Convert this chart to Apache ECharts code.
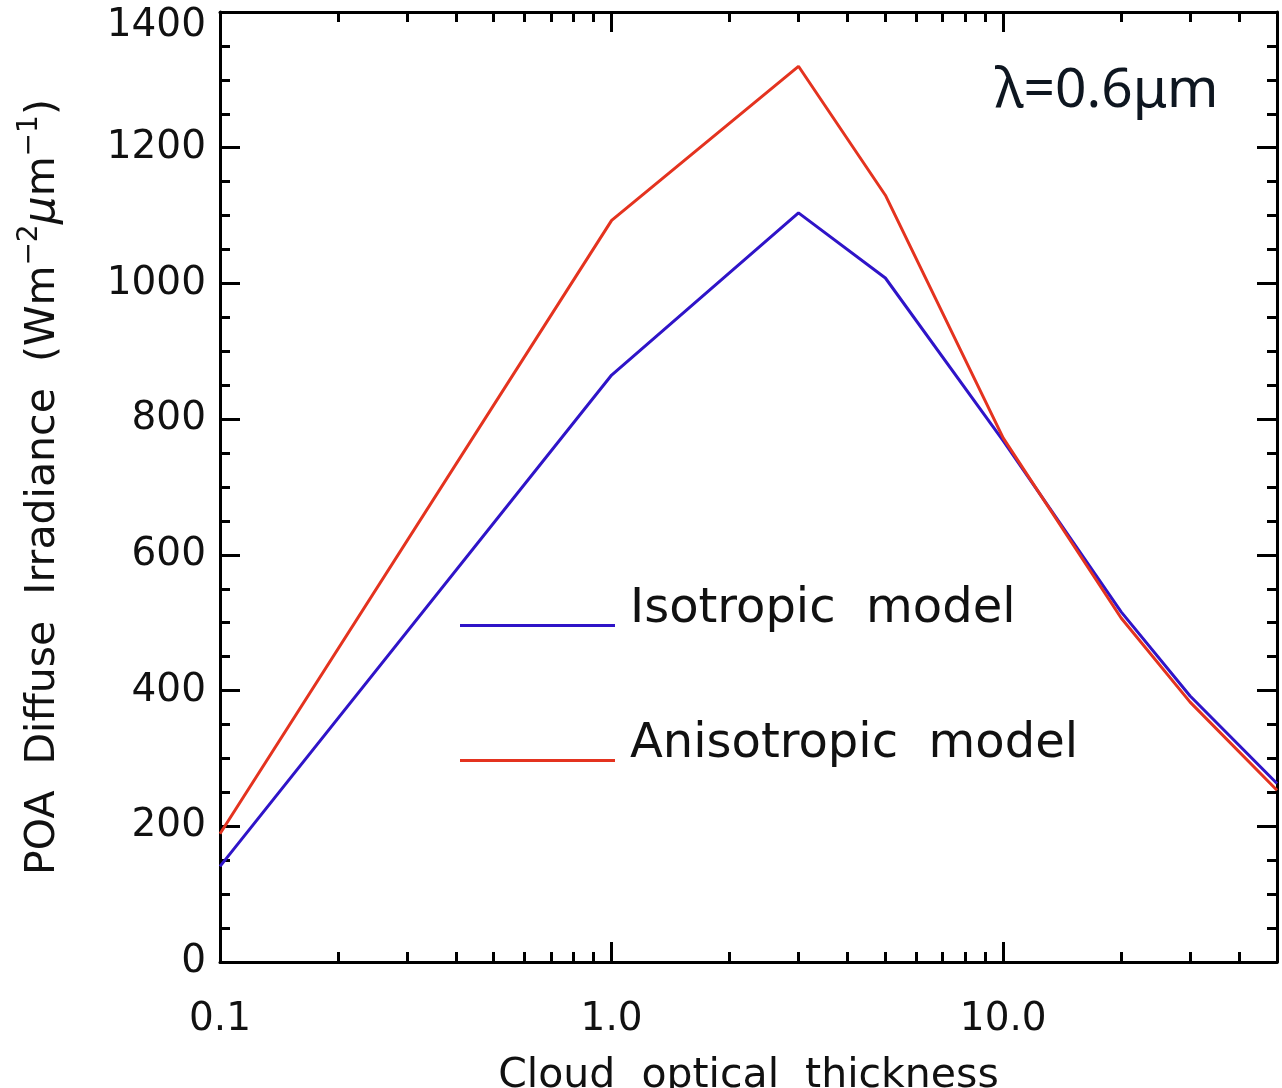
<!DOCTYPE html>
<html>
<head>
<meta charset="utf-8">
<script src="https://cdn.jsdelivr.net/npm/echarts@6/dist/echarts.min.js"></script>
<style>
    html, body { margin: 0; padding: 0; background: #fff; }
    #chart { width: 1282px; height: 1088px; }
</style>
</head>
<body>
<div id="chart"></div>
<script>
// cloud optical thickness (x, log scale)
var thickness = [0.1, 1, 3, 5, 10, 20, 30, 50];
// POA diffuse irradiance
var isotropic = [141, 865, 1104, 1008, 768, 516, 392, 263];
var anisotropic = [189, 1093, 1320, 1130, 772, 507, 383, 253];

var xMajorTicks = [0.1, 1, 10];
var xMinorTicks = [0.2, 0.3, 0.4, 0.5, 0.6, 0.7, 0.8, 0.9, 2, 3, 4, 5, 6, 7, 8, 9, 20, 30, 40];

var FONT = "DejaVu Sans";

function pairs(xs, ys) {
    return xs.map(function (x, i) { return [x, ys[i]]; });
}

// 对数x轴, 主刻度 / 次刻度 分开画
function xAxisDef(position, major) {
    return {
        type: "log",
        logBase: 10,
        min: 0.1,
        max: 50,
        position: position,
        axisLine: { show: major, lineStyle: { color: "#000", width: 3 } },
        axisTick: {
            show: true,
            inside: true,
            length: major ? 20 : 10,
            customValues: major ? xMajorTicks : xMinorTicks,
            lineStyle: { color: "#000", width: 3 }
        },
        axisLabel: {
            show: major && position === "bottom",
            customValues: xMajorTicks,
            margin: 38,
            fontFamily: FONT,
            fontSize: 39,
            color: "#111",
            formatter: function (v) { return Number(v).toFixed(1); }
        },
        splitLine: { show: false },
        minorTick: { show: false }
    };
}

function yAxisDef(position, labels) {
    return {
        type: "value",
        min: 0,
        max: 1400,
        interval: 200,
        position: position,
        axisLine: { show: true, lineStyle: { color: "#000", width: 3 } },
        axisTick: { show: true, inside: true, length: 20, lineStyle: { color: "#000", width: 3 } },
        minorTick: { show: true, splitNumber: 4, length: 10, lineStyle: { color: "#000", width: 3 } },
        axisLabel: {
            show: labels,
            margin: 14,
            fontFamily: FONT,
            fontSize: 39,
            color: "#111",
            // 顶部标签往下挪一点, 不被裁掉
            formatter: function (v) { return v === 1400 ? "{top|" + v + "}" : String(v); },
            rich: {
                top: { fontFamily: FONT, fontSize: 39, color: "#111", padding: [28, 0, 0, 0] }
            }
        },
        splitLine: { show: false }
    };
}

var xAxes = [
    xAxisDef("bottom", true),
    xAxisDef("bottom", false),
    xAxisDef("top", true),
    xAxisDef("top", false)
];
xAxes[0].name = "Cloud  optical  thickness";
xAxes[0].nameLocation = "middle";
xAxes[0].nameGap = 94;
xAxes[0].nameTextStyle = { fontFamily: FONT, fontSize: 41, color: "#111" };

var yLeft = yAxisDef("left", true);
yLeft.name = "{n|POA  Diffuse  Irradiance  (Wm}{s|\u22122}{mu|\u03bc}{n|m}{s|\u22121}{n|)}";
yLeft.nameLocation = "middle";
yLeft.nameGap = 150;
yLeft.nameTextStyle = {
    fontFamily: FONT,
    color: "#111",
    rich: {
        n: { fontFamily: FONT, fontSize: 41, color: "#111" },
        s: { fontFamily: FONT, fontSize: 28, color: "#111", padding: [0, 0, 26, 0] },
        mu: { fontFamily: FONT, fontSize: 44, fontStyle: "italic", color: "#111" }
    }
};

var option = {
    animation: false,
    backgroundColor: "#fff",
    grid: { left: 220, right: 5, top: 12, bottom: 126, outerBoundsMode: "none", containLabel: false },
    legend: {
        orient: "vertical",
        left: 455,
        top: 581,
        // 线段在图例框底部, 文字偏上
        icon: "path://M0,0 M0,31 L155,31 L155,34 L0,34 Z",
        itemWidth: 155,
        itemHeight: 34,
        itemGap: 87,
        textStyle: {
            fontFamily: FONT,
            fontSize: 48,
            lineHeight: 34,
            color: "#111",
            padding: [0, 0, 0, 10]
        },
        data: ["Isotropic  model", "Anisotropic  model"]
    },
    xAxis: xAxes,
    yAxis: [yLeft, yAxisDef("right", false)],
    graphic: [
        {
            type: "text",
            left: 995,
            top: 64,
            style: {
                text: "\u03bb=0.6\u03bcm",
                font: "55px 'Noto Sans'",
                fill: "#0e1620"
            }
        }
    ],
    series: [
        {
            name: "Isotropic  model",
            type: "line",
            xAxisIndex: 0,
            yAxisIndex: 0,
            data: pairs(thickness, isotropic),
            showSymbol: false,
            color: "#2f14c8",
            lineStyle: { width: 3 }
        },
        {
            name: "Anisotropic  model",
            type: "line",
            xAxisIndex: 0,
            yAxisIndex: 0,
            data: pairs(thickness, anisotropic),
            showSymbol: false,
            color: "#e4331f",
            lineStyle: { width: 3 }
        }
    ]
};

var myChart = echarts.init(document.getElementById("chart"));
myChart.setOption(option);
</script>
</body>
</html>
